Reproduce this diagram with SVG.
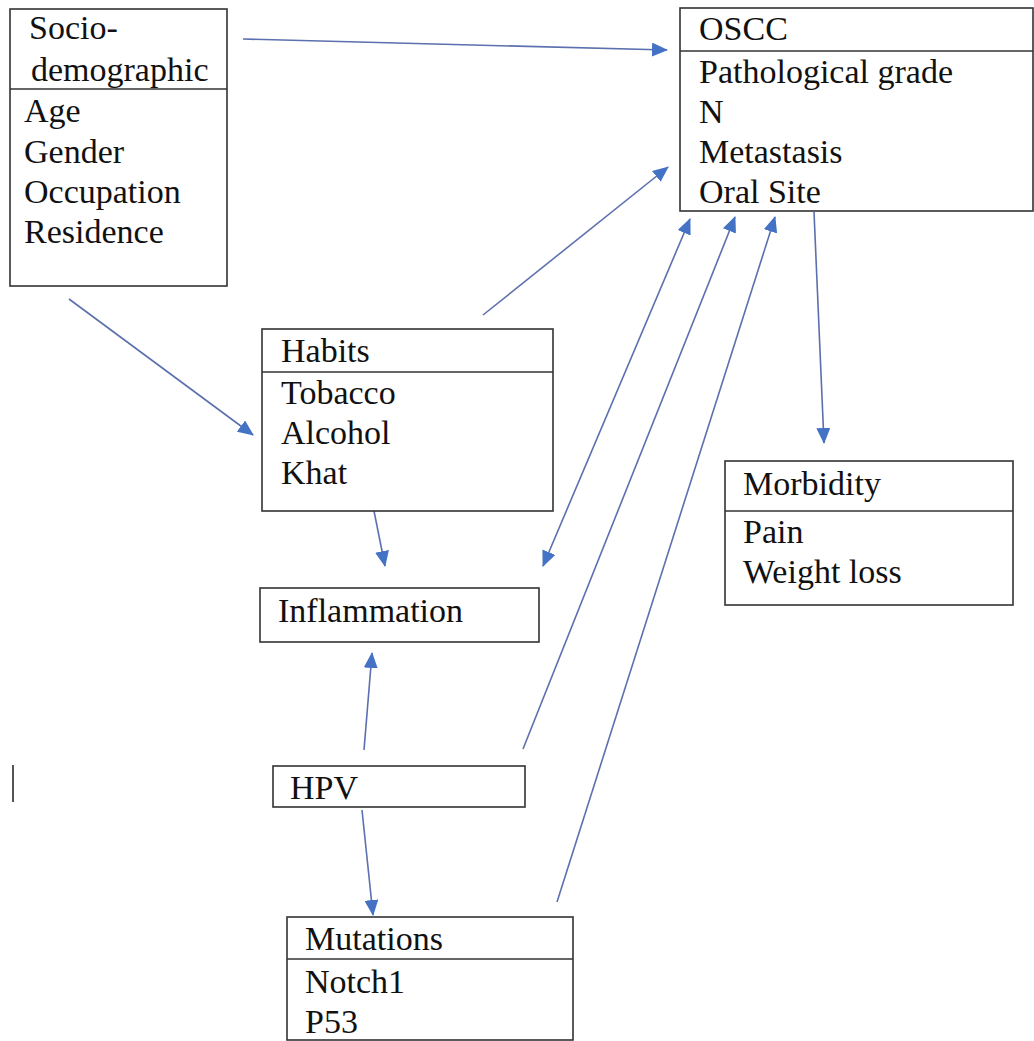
<svg xmlns="http://www.w3.org/2000/svg" width="1034" height="1041" viewBox="0 0 1034 1041">
<defs>
<style>
.box{fill:#fff;stroke:#333;stroke-width:1.6}
.div{stroke:#333;stroke-width:1.6}
text{font-family:'Liberation Serif','Tinos','Times New Roman','DejaVu Serif',serif;font-size:34px;fill:#111}
.c{stroke:#5c6fae;stroke-width:1.6;fill:none;marker-end:url(#ah)}
.d{marker-start:url(#ah)}
</style>
<marker id="ah" markerUnits="userSpaceOnUse" markerWidth="16" markerHeight="14" refX="15" refY="7" orient="auto-start-reverse" viewBox="0 0 16 14">
<path d="M0,0 L16,7 L0,14 z" fill="#4472c4"/>
</marker>
</defs>
<rect width="1034" height="1041" fill="#fff"/>
<g id="connectors">
<line class="c" x1="243" y1="39" x2="667" y2="50"/>
<line class="c" x1="69" y1="299" x2="253" y2="435"/>
<line class="c" x1="483" y1="315" x2="668" y2="167"/>
<line class="c" x1="374" y1="511" x2="385" y2="566"/>
<line class="c d" x1="543" y1="566" x2="690" y2="219"/>
<line class="c" x1="523" y1="749" x2="735" y2="217"/>
<line class="c" x1="557" y1="902" x2="775" y2="217"/>
<line class="c" x1="814" y1="212" x2="824" y2="443"/>
<line class="c" x1="364" y1="750" x2="372" y2="653"/>
<line class="c" x1="362" y1="810" x2="373" y2="915"/>
</g>
<g id="sociodemographic">
<rect class="box" x="10" y="9" width="217" height="277"/>
<line class="div" x1="10" y1="89" x2="227" y2="89"/>
<text x="29" y="39">Socio-</text>
<text x="31" y="81">demographic</text>
<text x="24" y="122">Age</text>
<text x="24" y="163">Gender</text>
<text x="24" y="203">Occupation</text>
<text x="24" y="243">Residence</text>
</g>
<g id="oscc">
<rect class="box" x="680" y="8" width="353" height="203"/>
<line class="div" x1="680" y1="51" x2="1033" y2="51"/>
<text x="699" y="40">OSCC</text>
<text x="699" y="83">Pathological grade</text>
<text x="699" y="123">N</text>
<text x="699" y="163">Metastasis</text>
<text x="699" y="203">Oral Site</text>
</g>
<g id="habits">
<rect class="box" x="262" y="329" width="291" height="182"/>
<line class="div" x1="262" y1="372" x2="553" y2="372"/>
<text x="281" y="362">Habits</text>
<text x="281" y="404">Tobacco</text>
<text x="281" y="444">Alcohol</text>
<text x="281" y="484">Khat</text>
</g>
<g id="inflammation">
<rect class="box" x="260" y="588" width="279" height="54"/>
<text x="278" y="622">Inflammation</text>
</g>
<g id="morbidity">
<rect class="box" x="725" y="461" width="288" height="144"/>
<line class="div" x1="725" y1="511" x2="1013" y2="511"/>
<text x="743" y="495">Morbidity</text>
<text x="743" y="543">Pain</text>
<text x="743" y="583">Weight loss</text>
</g>
<g id="hpv">
<rect class="box" x="273" y="766" width="252" height="41"/>
<text x="290" y="799">HPV</text>
</g>
<g id="mutations">
<rect class="box" x="287" y="917" width="286" height="123"/>
<line class="div" x1="287" y1="959" x2="573" y2="959"/>
<text x="305" y="950">Mutations</text>
<text x="305" y="993">Notch1</text>
<text x="305" y="1033">P53</text>
</g>
<line x1="13" y1="765" x2="13" y2="802" stroke="#555" stroke-width="2"/>
</svg>
